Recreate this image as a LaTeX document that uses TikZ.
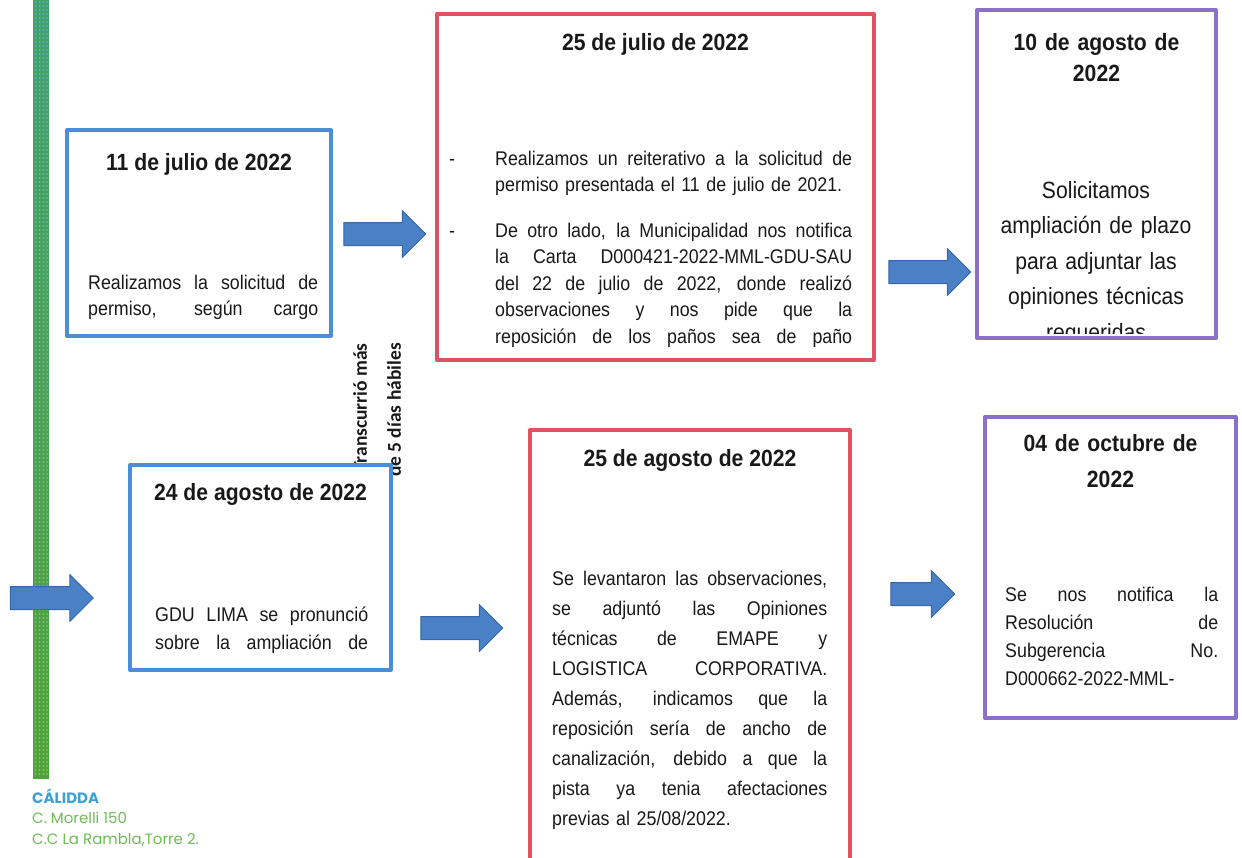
\documentclass[tikz,border=0pt]{standalone}
\usepackage{fontspec}
\setmainfont{Liberation Sans}[FakeStretch=0.9]
\newfontfamily\notefont{Carlito}
\newfontfamily\footfont{Poppins}
\usetikzlibrary{calc,shapes.arrows}
\definecolor{boxblue}{RGB}{74,142,216}
\definecolor{boxred}{RGB}{222,82,98}
\definecolor{boxpurple}{RGB}{138,112,200}
\definecolor{arrowblue}{RGB}{74,128,198}
\definecolor{arrowedge}{RGB}{52,102,168}
\definecolor{textdark}{RGB}{25,25,25}
\definecolor{barteal}{RGB}{66,160,110}
\definecolor{bargreen}{RGB}{78,162,62}
\definecolor{dotcyan}{RGB}{105,185,230}
\definecolor{dotyellow}{RGB}{185,210,80}
\definecolor{calblue}{RGB}{62,160,215}
\definecolor{calgreen}{RGB}{110,188,85}
% justified line of a given width
\newcommand{\jl}[2]{{\spaceskip=0.25em plus 1fil\makebox[#1][s]{#2}}}
\tikzset{
  datebox/.style={draw=#1, fill=white, line width=4pt, anchor=north west, inner sep=0pt},
  head/.style={font=\bfseries\fontsize{23.5}{31}\selectfont, text=textdark, inner sep=0pt, align=center, anchor=base},
  body/.style={font=\fontsize{19.8}{26.5}\selectfont, text=textdark, inner sep=0pt, align=left, anchor=base west},
  note/.style={font=\notefont\bfseries\fontsize{19.5}{34}\selectfont, text=textdark, inner sep=0pt, align=right},
  footer/.style={anchor=base west, inner sep=0pt},
  arrowblk/.style={single arrow, fill=arrowblue, draw=arrowedge, line width=1pt,
    minimum width=46pt, single arrow head extend=12pt, single arrow head indent=0pt,
    inner sep=0pt, minimum height=#1}
}
\begin{document}
\begin{tikzpicture}[x=1pt, y=-1pt, line join=round]
  \useasboundingbox (0,0) rectangle (1242,857);
  \clip (0,0) rectangle (1242,857);

  % Side bar
  \shade[top color=barteal, bottom color=bargreen] (33,0) rectangle (49,778);
  \foreach \j in {2,6,...,774} {
    \pgfmathsetmacro{\pc}{100-\j/7.76}
    \foreach \i in {35.5,39.5,43.5,47} {
      \fill[dotcyan!\pc!dotyellow, opacity=0.6] (\i,\j) circle (1.1);
    }
  }

  % Footer
  \node[footer, font=\footfont\bfseries\fontsize{15}{15}\selectfont, text=calblue] (brand) at (32,803) {CÁLIDDA};
  \node[footer, font=\footfont\fontsize{15}{15}\selectfont, text=calgreen] (street) at (32,823) {C. Morelli 150};
  \node[footer, font=\footfont\fontsize{15}{15}\selectfont, text=calgreen] (tower) at (32,844) {C.C La Rambla,Torre 2.};

  % Note (under the 24 Aug box)
  \node[note, rotate=90, anchor=north east] (gap) at (353,343) {Transcurrió más\\de 5 días hábiles};

  % Boxes
  \node[datebox=boxblue, minimum width=264pt, minimum height=206pt] (jul11) at (65,128) {};
  \node[datebox=boxred, minimum width=437pt, minimum height=346pt] (jul25) at (435,12) {};
  \node[datebox=boxpurple, minimum width=239pt, minimum height=328pt] (ago10) at (975,8) {};
  \node[datebox=boxblue, minimum width=261pt, minimum height=205pt] (ago24) at (128,463) {};
  \node[datebox=boxred, minimum width=320pt, minimum height=460pt] (ago25) at (528,428) {};
  \node[datebox=boxpurple, minimum width=251pt, minimum height=301pt] (oct04) at (983,415) {};

  % 11 July
  \node[head] (jul11h) at ($(jul11.north)+(0,42)$) {11 de julio de 2022};
  \node[body, text width=230pt] (jul11b) at (88,289) {\jl{230pt}{Realizamos la solicitud de}\\\jl{230pt}{permiso, según cargo}};

  % 25 July
  \node[head] (jul25h) at ($(jul25.north)+(0,38)$) {25 de julio de 2022};
  \node[body, anchor=base] (dash1) at (452,165) {-};
  \node[body, anchor=base] (dash2) at (452,237) {-};
  \node[body, text width=357pt] (jul25a) at (495,165) {\jl{357pt}{Realizamos un reiterativo a la solicitud de}\\permiso presentada el 11 de julio de 2021.};
  \node[body, text width=357pt] (jul25b) at (495,237) {\jl{357pt}{De otro lado, la Municipalidad nos notifica}\\
    \jl{357pt}{la Carta D000421-2022-MML-GDU-SAU}\\
    \jl{357pt}{del 22 de julio de 2022, donde realizó}\\
    \jl{357pt}{observaciones y nos pide que la}\\
    \jl{357pt}{reposición de los paños sea de paño}};

  % 10 August
  \node[head, text width=230pt] (ago10h) at ($(ago10.north)+(0,42)$) {10 de agosto de\\2022};
  \begin{scope}
    \clip (977,10) rectangle (1216,333);
    \node[body, anchor=base, align=center, text width=235pt, font=\fontsize{23.5}{35.5}\selectfont] (ago10b) at (1096,198)
      {Solicitamos\\ampliación de plazo\\para adjuntar las\\opiniones técnicas\\requeridas};
  \end{scope}

  % 24 August
  \node[head] (ago24h) at ($(ago24.north)+(0,37)$) {24 de agosto de 2022};
  \node[body, text width=213pt, font=\fontsize{19.8}{28}\selectfont] (ago24b) at (155,621) {\jl{213pt}{GDU LIMA se pronunció}\\\jl{213pt}{sobre la ampliación de}};

  % 25 August
  \node[head] (ago25h) at ($(ago25.north)+(0,38)$) {25 de agosto de 2022};
  \node[body, text width=275pt, font=\fontsize{19.8}{30}\selectfont] (ago25b) at (552,585) {\jl{275pt}{Se levantaron las observaciones,}\\
    \jl{275pt}{se adjuntó las Opiniones}\\
    \jl{275pt}{técnicas de EMAPE y}\\
    \jl{275pt}{LOGISTICA CORPORATIVA.}\\
    \jl{275pt}{Además, indicamos que la}\\
    \jl{275pt}{reposición sería de ancho de}\\
    \jl{275pt}{canalización, debido a que la}\\
    \jl{275pt}{pista ya tenia afectaciones}\\
    previas al 25/08/2022.};

  % 04 October
  \node[head, text width=240pt, font=\bfseries\fontsize{23.5}{36}\selectfont] (oct04h) at ($(oct04.north)+(0,36)$) {04 de octubre de\\2022};
  \node[body, text width=213pt, font=\fontsize{19.8}{28}\selectfont] (oct04b) at (1005,601) {\jl{213pt}{Se nos notifica la}\\
    \jl{213pt}{Resolución de}\\
    \jl{213pt}{Subgerencia No.}\\
    D000662-2022-MML-};

  % Arrows
  \node[arrowblk=82pt] (arr1) at (379,234) {\rule{0pt}{22pt}};
  \node[arrowblk=82pt] (arr2) at (924,272) {\rule{0pt}{22pt}};
  \node[arrowblk=82pt] (arr3) at (456,628) {\rule{0pt}{22pt}};
  \node[arrowblk=64pt] (arr4) at (917,594) {\rule{0pt}{22pt}};
  \node[arrowblk=83pt] (arr5) at (46,598) {\rule{0pt}{22pt}};
\end{tikzpicture}
\end{document}
